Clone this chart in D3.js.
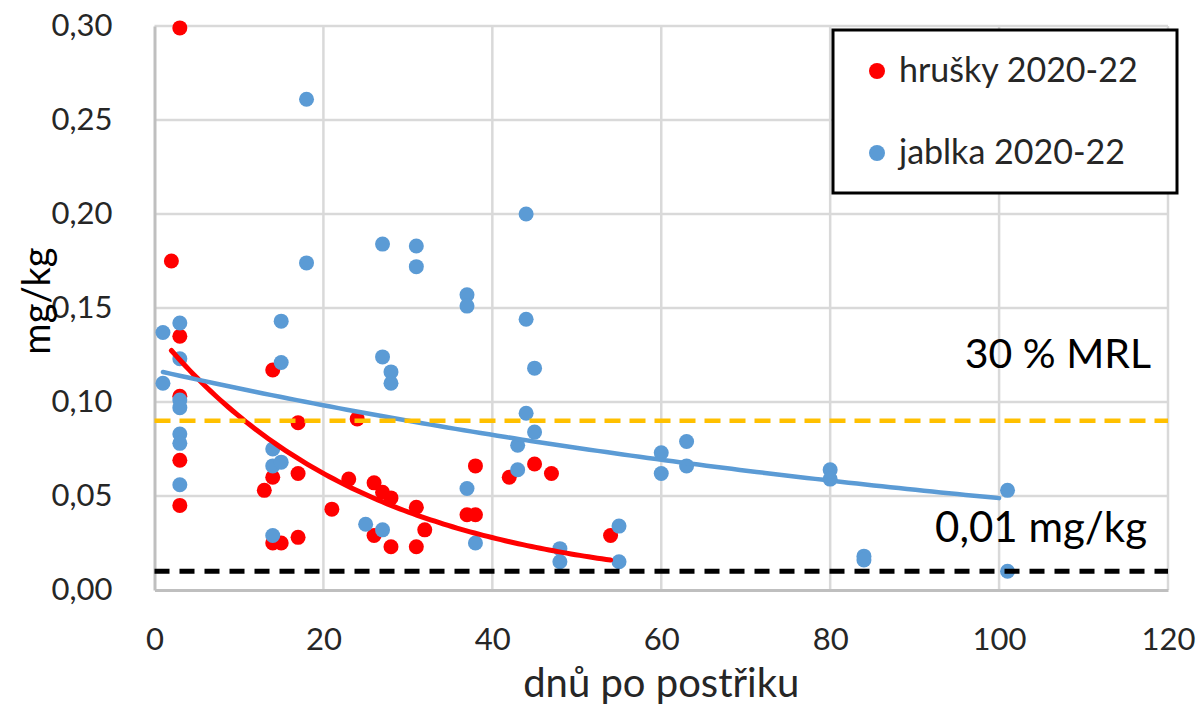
<!DOCTYPE html>
<html>
<head>
<meta charset="utf-8">
<script src="https://cdn.jsdelivr.net/npm/d3@7"></script>
<style>
  body { margin: 0; background: #fff; }
  svg { display: block; }
  text { font-family: Lato, "Open Sans", sans-serif; }
</style>
</head>
<body>
<svg id="chart" width="1204" height="707"></svg>
<script>
// Residues of the active substance (mg/kg) by days after spraying
const seriesNames = ["hrušky 2020-22", "jablka 2020-22"];

// pears (hrušky)
const pearDays = [3, 2, 3, 14, 3, 17, 24, 3, 3, 14, 17, 13, 21, 14, 15, 17,
                  23, 26, 27, 28, 31, 32, 26, 28, 31, 38, 37, 38, 42, 45, 47, 54];
const pearResidue = [0.299, 0.175, 0.135, 0.117, 0.103, 0.089, 0.091, 0.069, 0.045, 0.060, 0.062, 0.053, 0.043, 0.025, 0.025, 0.028,
                     0.059, 0.057, 0.052, 0.049, 0.044, 0.032, 0.029, 0.023, 0.023, 0.066, 0.040, 0.040, 0.060, 0.067, 0.062, 0.029];

// apples (jablka)
const appleDays = [18, 18, 1, 3, 3, 15, 15, 1, 3, 3, 3, 3, 3, 14, 14, 15, 14,
                   27, 31, 31, 37, 37, 44, 44, 45, 27, 28, 28, 25, 27, 37, 38,
                   44, 45, 43, 43, 48, 48, 55, 55, 60, 60, 63, 63, 80, 80, 84, 84, 101, 101];
const appleResidue = [0.261, 0.174, 0.137, 0.142, 0.123, 0.143, 0.121, 0.110, 0.101, 0.097, 0.083, 0.078, 0.056, 0.075, 0.066, 0.068, 0.029,
                      0.184, 0.183, 0.172, 0.157, 0.151, 0.200, 0.144, 0.118, 0.124, 0.116, 0.110, 0.035, 0.032, 0.054, 0.025,
                      0.094, 0.084, 0.077, 0.064, 0.022, 0.015, 0.034, 0.015, 0.073, 0.062, 0.079, 0.066, 0.064, 0.059, 0.018, 0.016, 0.053, 0.010];

// exponential trendlines y = a·e^(b·x) over the given day range
const pearTrend = { a: 0.138, b: -0.0400, from: 2, to: 54 };
const appleTrend = { a: 0.117, b: -0.00873, from: 1, to: 100 };

const xTicks = [0, 20, 40, 60, 80, 100, 120];
const yTicks = [0, 0.05, 0.10, 0.15, 0.20, 0.25, 0.30];

// reference levels: 30 % of the MRL and the 0.01 mg/kg limit
const limitValues = [0.09, 0.01];
const limitLabels = ["30 % MRL", "0,01 mg/kg"];

const colors = { pear: "#ff0000", apple: "#5b9bd5", mrl: "#ffc000", limit: "#000000" };

const svg = d3.select("#chart");
const plot = { left: 154.5, right: 1168, top: 26, bottom: 590 };

const x = d3.scaleLinear().domain([0, 120]).range([plot.left, plot.right]);
const y = d3.scaleLinear().domain([0, 0.30]).range([plot.bottom, plot.top]);

const cz = d3.formatLocale({ decimal: ",", thousands: " ", grouping: [3], currency: ["", " Kč"] });
const fmtY = cz.format(".2f");

// gridlines
svg.append("g").selectAll("line").data(yTicks.filter(d => d > 0)).join("line")
  .attr("x1", plot.left).attr("x2", plot.right)
  .attr("y1", d => y(d)).attr("y2", d => y(d))
  .attr("stroke", "#d9d9d9").attr("stroke-width", 2.5);
svg.append("g").selectAll("line").data(xTicks.filter(d => d > 0)).join("line")
  .attr("x1", d => x(d)).attr("x2", d => x(d))
  .attr("y1", plot.top).attr("y2", plot.bottom)
  .attr("stroke", "#d9d9d9").attr("stroke-width", 2.5);

// axes
const yAxis = svg.append("g").attr("transform", `translate(${plot.left},0)`)
  .call(d3.axisLeft(y).tickValues(yTicks).tickFormat(fmtY).tickSize(0).tickPadding(42));
const xAxis = svg.append("g").attr("transform", `translate(0,${plot.bottom})`)
  .call(d3.axisBottom(x).tickValues(xTicks).tickSize(0).tickPadding(38));
[yAxis, xAxis].forEach(g => {
  g.select(".domain").attr("stroke", "#bfbfbf").attr("stroke-width", 3);
  g.selectAll("text").attr("font-size", 31).attr("fill", "#262626");
});
xAxis.selectAll("text").attr("dy", "0.71em");

// axis titles
svg.append("text").attr("x", x(60)).attr("y", 697).attr("text-anchor", "middle")
  .attr("font-size", 40).attr("fill", "#262626").text("dnů po postřiku");
svg.append("text").attr("transform", `translate(50,${y(0.15) - 7}) rotate(-90)`).attr("text-anchor", "middle")
  .attr("font-size", 38).attr("fill", "#000").text("mg/kg");

// scatter points
const pears = pearDays.map((d, i) => ({ d, v: pearResidue[i] }));
const apples = appleDays.map((d, i) => ({ d, v: appleResidue[i] }));

svg.append("g").selectAll("circle").data(pears).join("circle")
  .attr("cx", p => x(p.d)).attr("cy", p => y(p.v)).attr("r", 7.5).attr("fill", colors.pear);
svg.append("g").selectAll("circle").data(apples).join("circle")
  .attr("cx", p => x(p.d)).attr("cy", p => y(p.v)).attr("r", 7.5).attr("fill", colors.apple);

// trendlines
function trendPath(t) {
  const xs = d3.range(0, 101).map(i => t.from + (t.to - t.from) * i / 100);
  return d3.line().x(d => x(d)).y(d => y(t.a * Math.exp(t.b * d)))(xs);
}
svg.append("path").attr("d", trendPath(pearTrend)).attr("fill", "none")
  .attr("stroke", colors.pear).attr("stroke-width", 5).attr("stroke-linecap", "round");
svg.append("path").attr("d", trendPath(appleTrend)).attr("fill", "none")
  .attr("stroke", colors.apple).attr("stroke-width", 4.5).attr("stroke-linecap", "round");

// reference lines
svg.append("line").attr("x1", plot.left).attr("x2", plot.right)
  .attr("y1", y(limitValues[0])).attr("y2", y(limitValues[0]))
  .attr("stroke", colors.mrl).attr("stroke-width", 4.5).attr("stroke-dasharray", "16 9");
svg.append("line").attr("x1", plot.left).attr("x2", plot.right)
  .attr("y1", y(limitValues[1])).attr("y2", y(limitValues[1]))
  .attr("stroke", colors.limit).attr("stroke-width", 5).attr("stroke-dasharray", "15 10");

svg.append("text").attr("x", 1151).attr("y", 368).attr("text-anchor", "end")
  .attr("font-size", 41).attr("fill", "#000").text(limitLabels[0]);
svg.append("text").attr("x", 1147).attr("y", 542).attr("text-anchor", "end")
  .attr("font-size", 42).attr("fill", "#000").text(limitLabels[1]);

// legend
const lg = svg.append("g");
lg.append("rect").attr("x", 833).attr("y", 30).attr("width", 344).attr("height", 163)
  .attr("fill", "#fff").attr("stroke", "#000").attr("stroke-width", 3);
[colors.pear, colors.apple].forEach((c, i) => {
  const cy = 71 + i * 82;
  lg.append("circle").attr("cx", 877).attr("cy", cy).attr("r", 8).attr("fill", c);
  lg.append("text").attr("x", 899).attr("y", cy + 11).attr("font-size", 34).attr("fill", "#262626").text(seriesNames[i]);
});
</script>
</body>
</html>
